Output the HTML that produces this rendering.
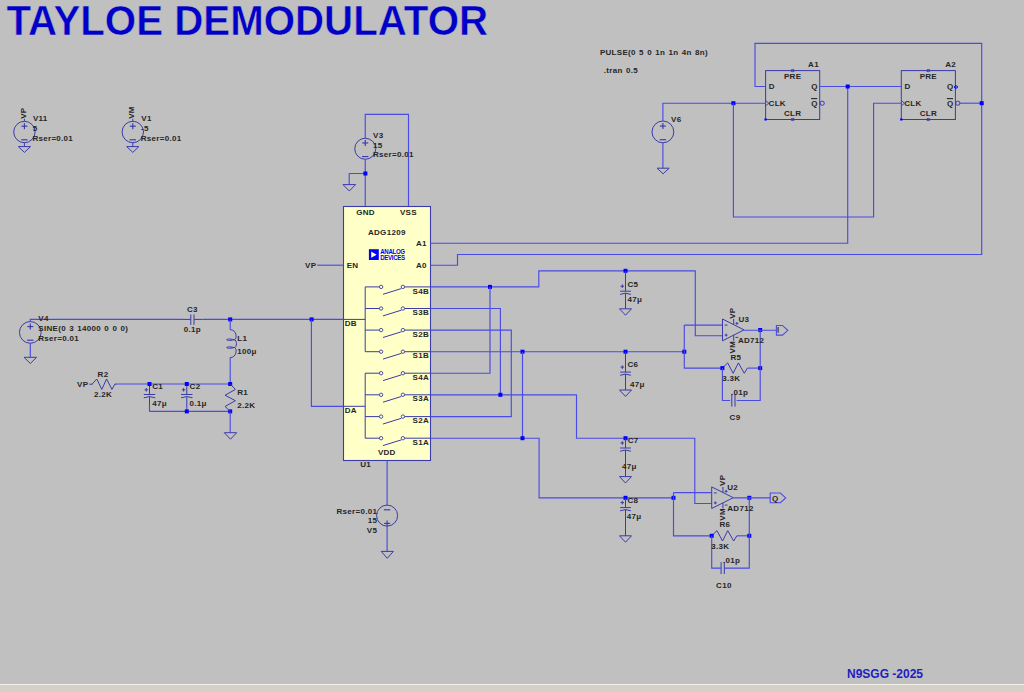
<!DOCTYPE html>
<html><head><meta charset="utf-8"><style>
html,body{margin:0;padding:0;width:1024px;height:692px;overflow:hidden;background:#c0c0c0}
svg{display:block}
text{font-family:"Liberation Sans",sans-serif;font-weight:bold}
</style></head><body>
<svg width="1024" height="692" viewBox="0 0 1024 692">
<rect x="0" y="0" width="1024" height="684" fill="#c0c0c0"/>
<rect x="0" y="684" width="1024" height="1" fill="#f2f0ec"/>
<rect x="0" y="685" width="1024" height="7" fill="#d4d0c8"/>
<text x="0" y="0" transform="translate(6.4,35.2) scale(1.007,1.086)" font-size="40" fill="#0000c8" stroke="#c0c0c0" stroke-width="0.5">TAYLOE DEMODULATOR</text>
<text x="847" y="677.6" font-size="12" fill="#2020c0">N9SGG -2025</text>
<circle cx="24.40" cy="132.00" r="10.70" fill="none" stroke="#3a3aa8" stroke-width="1.0"/>
<polyline points="21.40,126.20 27.40,126.20" fill="none" stroke="#3a3aa8" stroke-width="1.15"/>
<polyline points="24.40,123.20 24.40,129.20" fill="none" stroke="#3a3aa8" stroke-width="1.15"/>
<polyline points="21.20,139.80 27.60,139.80" fill="none" stroke="#3a3aa8" stroke-width="1.15"/>
<polyline points="24.40,121.30 24.40,118.80" fill="none" stroke="#3a3aa8" stroke-width="1.0"/>
<polyline points="24.40,142.70 24.40,146.60" fill="none" stroke="#3a3aa8" stroke-width="1.0"/>
<polygon points="18.30,146.60 30.50,146.60 24.40,152.40" fill="none" stroke="#3a3aa8" stroke-width="1"/>
<text x="0" y="0" transform="translate(26.00,118.80) rotate(-90)" font-size="8" letter-spacing="0.3" fill="#262626">VP</text>
<text x="32.90" y="121.30" text-anchor="start" font-size="8" letter-spacing="0.3" word-spacing="0.8" fill="#262626" >V11</text>
<text x="32.70" y="131.00" text-anchor="start" font-size="8" letter-spacing="0.3" word-spacing="0.8" fill="#262626" >5</text>
<text x="32.40" y="140.80" text-anchor="start" font-size="8" letter-spacing="0.3" word-spacing="0.8" fill="#262626" >Rser=0.01</text>
<circle cx="132.80" cy="132.00" r="10.70" fill="none" stroke="#3a3aa8" stroke-width="1.0"/>
<polyline points="129.80,126.20 135.80,126.20" fill="none" stroke="#3a3aa8" stroke-width="1.15"/>
<polyline points="132.80,123.20 132.80,129.20" fill="none" stroke="#3a3aa8" stroke-width="1.15"/>
<polyline points="129.60,139.80 136.00,139.80" fill="none" stroke="#3a3aa8" stroke-width="1.15"/>
<polyline points="132.80,121.30 132.80,118.80" fill="none" stroke="#3a3aa8" stroke-width="1.0"/>
<polyline points="132.80,142.70 132.80,146.60" fill="none" stroke="#3a3aa8" stroke-width="1.0"/>
<polygon points="126.70,146.60 138.90,146.60 132.80,152.40" fill="none" stroke="#3a3aa8" stroke-width="1"/>
<text x="0" y="0" transform="translate(134.40,118.80) rotate(-90)" font-size="8" letter-spacing="0.3" fill="#262626">VM</text>
<text x="141.30" y="121.30" text-anchor="start" font-size="8" letter-spacing="0.3" word-spacing="0.8" fill="#262626" >V1</text>
<text x="141.10" y="131.00" text-anchor="start" font-size="8" letter-spacing="0.3" word-spacing="0.8" fill="#262626" >-5</text>
<text x="140.80" y="140.80" text-anchor="start" font-size="8" letter-spacing="0.3" word-spacing="0.8" fill="#262626" >Rser=0.01</text>
<circle cx="365.25" cy="148.75" r="10.50" fill="none" stroke="#3a3aa8" stroke-width="1.0"/>
<polyline points="362.25,142.95 368.25,142.95" fill="none" stroke="#3a3aa8" stroke-width="1.15"/>
<polyline points="365.25,139.95 365.25,145.95" fill="none" stroke="#3a3aa8" stroke-width="1.15"/>
<polyline points="362.05,156.55 368.45,156.55" fill="none" stroke="#3a3aa8" stroke-width="1.15"/>
<polyline points="365.25,138.25 365.25,114.30 408.50,114.30 408.50,206.20" fill="none" stroke="#4a4ae6" stroke-width="1.15"/>
<polyline points="365.25,159.25 365.25,206.20" fill="none" stroke="#4a4ae6" stroke-width="1.15"/>
<polyline points="365.25,173.50 349.20,173.50 349.20,184.60" fill="none" stroke="#4a4ae6" stroke-width="1.15"/>
<polygon points="343.00,184.60 355.60,184.60 349.30,191.00" fill="none" stroke="#3a3aa8" stroke-width="1"/>
<rect x="363.40" y="171.50" width="4.0" height="4.0" fill="#0000ff"/>
<text x="373.00" y="138.25" text-anchor="start" font-size="8" letter-spacing="0.3" word-spacing="0.8" fill="#262626" >V3</text>
<text x="373.00" y="147.50" text-anchor="start" font-size="8" letter-spacing="0.3" word-spacing="0.8" fill="#262626" >15</text>
<text x="373.00" y="156.75" text-anchor="start" font-size="8" letter-spacing="0.3" word-spacing="0.8" fill="#262626" >Rser=0.01</text>
<rect x="343.5" y="206.5" width="87" height="254" fill="#ffffc8" stroke="#3a3aa8" stroke-width="1.1"/>
<text x="365.50" y="214.90" text-anchor="middle" font-size="8" letter-spacing="0.3" word-spacing="0.8" fill="#262626" >GND</text>
<text x="408.40" y="214.90" text-anchor="middle" font-size="8" letter-spacing="0.3" word-spacing="0.8" fill="#262626" >VSS</text>
<text x="386.80" y="235.20" text-anchor="middle" font-size="8" letter-spacing="0.3" word-spacing="0.8" fill="#262626" >ADG1209</text>
<text x="426.80" y="246.00" text-anchor="end" font-size="8" letter-spacing="0.3" word-spacing="0.8" fill="#262626" >A1</text>
<text x="426.80" y="267.70" text-anchor="end" font-size="8" letter-spacing="0.3" word-spacing="0.8" fill="#262626" >A0</text>
<text x="346.70" y="267.70" text-anchor="start" font-size="8" letter-spacing="0.3" word-spacing="0.8" fill="#262626" >EN</text>
<text x="344.80" y="326.00" text-anchor="start" font-size="8" letter-spacing="0.3" word-spacing="0.8" fill="#262626" >DB</text>
<text x="344.80" y="412.80" text-anchor="start" font-size="8" letter-spacing="0.3" word-spacing="0.8" fill="#262626" >DA</text>
<text x="386.80" y="454.60" text-anchor="middle" font-size="8" letter-spacing="0.3" word-spacing="0.8" fill="#262626" >VDD</text>
<text x="360.30" y="467.20" text-anchor="start" font-size="8" letter-spacing="0.3" word-spacing="0.8" fill="#262626" >U1</text>
<rect x="368.9" y="249.2" width="9.9" height="10.8" fill="#0000ff"/>
<polygon points="371.2,251.6 371.2,257.7 376.6,254.65" fill="#ffffc8"/>
<text x="380.2" y="253.9" font-size="6.3" fill="#0000ff" font-weight="bold" letter-spacing="-0.3" textLength="24.6" lengthAdjust="spacingAndGlyphs">ANALOG</text>
<text x="380.2" y="259.9" font-size="6.3" fill="#0000ff" font-weight="bold" letter-spacing="-0.3" textLength="24.6" lengthAdjust="spacingAndGlyphs">DEVICES</text>
<polyline points="365.20,286.90 365.20,351.70" fill="none" stroke="#3a3aa8" stroke-width="1.0"/>
<polyline points="365.20,286.90 379.40,286.90" fill="none" stroke="#3a3aa8" stroke-width="1.0"/>
<circle cx="381.10" cy="286.90" r="1.70" fill="none" stroke="#3a3aa8" stroke-width="0.9"/>
<circle cx="402.90" cy="286.90" r="1.70" fill="none" stroke="#3a3aa8" stroke-width="0.9"/>
<polyline points="383.00,294.30 401.30,288.60" fill="none" stroke="#3a3aa8" stroke-width="1.0"/>
<polyline points="404.60,286.90 430.40,286.90" fill="none" stroke="#3a3aa8" stroke-width="1.0"/>
<text x="429.00" y="293.50" text-anchor="end" font-size="8" letter-spacing="0.3" word-spacing="0.8" fill="#262626" >S4B</text>
<polyline points="365.20,308.50 379.40,308.50" fill="none" stroke="#3a3aa8" stroke-width="1.0"/>
<circle cx="381.10" cy="308.50" r="1.70" fill="none" stroke="#3a3aa8" stroke-width="0.9"/>
<circle cx="402.90" cy="308.50" r="1.70" fill="none" stroke="#3a3aa8" stroke-width="0.9"/>
<polyline points="383.00,315.90 401.30,310.20" fill="none" stroke="#3a3aa8" stroke-width="1.0"/>
<polyline points="404.60,308.50 430.40,308.50" fill="none" stroke="#3a3aa8" stroke-width="1.0"/>
<text x="429.00" y="315.10" text-anchor="end" font-size="8" letter-spacing="0.3" word-spacing="0.8" fill="#262626" >S3B</text>
<polyline points="365.20,330.10 379.40,330.10" fill="none" stroke="#3a3aa8" stroke-width="1.0"/>
<circle cx="381.10" cy="330.10" r="1.70" fill="none" stroke="#3a3aa8" stroke-width="0.9"/>
<circle cx="402.90" cy="330.10" r="1.70" fill="none" stroke="#3a3aa8" stroke-width="0.9"/>
<polyline points="383.00,337.50 401.30,331.80" fill="none" stroke="#3a3aa8" stroke-width="1.0"/>
<polyline points="404.60,330.10 430.40,330.10" fill="none" stroke="#3a3aa8" stroke-width="1.0"/>
<text x="429.00" y="336.70" text-anchor="end" font-size="8" letter-spacing="0.3" word-spacing="0.8" fill="#262626" >S2B</text>
<polyline points="365.20,351.70 379.40,351.70" fill="none" stroke="#3a3aa8" stroke-width="1.0"/>
<circle cx="381.10" cy="351.70" r="1.70" fill="none" stroke="#3a3aa8" stroke-width="0.9"/>
<circle cx="402.90" cy="351.70" r="1.70" fill="none" stroke="#3a3aa8" stroke-width="0.9"/>
<polyline points="383.00,359.10 401.30,353.40" fill="none" stroke="#3a3aa8" stroke-width="1.0"/>
<polyline points="404.60,351.70 430.40,351.70" fill="none" stroke="#3a3aa8" stroke-width="1.0"/>
<text x="429.00" y="358.30" text-anchor="end" font-size="8" letter-spacing="0.3" word-spacing="0.8" fill="#262626" >S1B</text>
<polyline points="365.20,373.20 365.20,438.20" fill="none" stroke="#3a3aa8" stroke-width="1.0"/>
<polyline points="365.20,373.20 379.40,373.20" fill="none" stroke="#3a3aa8" stroke-width="1.0"/>
<circle cx="381.10" cy="373.20" r="1.70" fill="none" stroke="#3a3aa8" stroke-width="0.9"/>
<circle cx="402.90" cy="373.20" r="1.70" fill="none" stroke="#3a3aa8" stroke-width="0.9"/>
<polyline points="383.00,380.60 401.30,374.90" fill="none" stroke="#3a3aa8" stroke-width="1.0"/>
<polyline points="404.60,373.20 430.40,373.20" fill="none" stroke="#3a3aa8" stroke-width="1.0"/>
<text x="429.00" y="379.80" text-anchor="end" font-size="8" letter-spacing="0.3" word-spacing="0.8" fill="#262626" >S4A</text>
<polyline points="365.20,394.80 379.40,394.80" fill="none" stroke="#3a3aa8" stroke-width="1.0"/>
<circle cx="381.10" cy="394.80" r="1.70" fill="none" stroke="#3a3aa8" stroke-width="0.9"/>
<circle cx="402.90" cy="394.80" r="1.70" fill="none" stroke="#3a3aa8" stroke-width="0.9"/>
<polyline points="383.00,402.20 401.30,396.50" fill="none" stroke="#3a3aa8" stroke-width="1.0"/>
<polyline points="404.60,394.80 430.40,394.80" fill="none" stroke="#3a3aa8" stroke-width="1.0"/>
<text x="429.00" y="401.40" text-anchor="end" font-size="8" letter-spacing="0.3" word-spacing="0.8" fill="#262626" >S3A</text>
<polyline points="365.20,416.60 379.40,416.60" fill="none" stroke="#3a3aa8" stroke-width="1.0"/>
<circle cx="381.10" cy="416.60" r="1.70" fill="none" stroke="#3a3aa8" stroke-width="0.9"/>
<circle cx="402.90" cy="416.60" r="1.70" fill="none" stroke="#3a3aa8" stroke-width="0.9"/>
<polyline points="383.00,424.00 401.30,418.30" fill="none" stroke="#3a3aa8" stroke-width="1.0"/>
<polyline points="404.60,416.60 430.40,416.60" fill="none" stroke="#3a3aa8" stroke-width="1.0"/>
<text x="429.00" y="423.20" text-anchor="end" font-size="8" letter-spacing="0.3" word-spacing="0.8" fill="#262626" >S2A</text>
<polyline points="365.20,438.20 379.40,438.20" fill="none" stroke="#3a3aa8" stroke-width="1.0"/>
<circle cx="381.10" cy="438.20" r="1.70" fill="none" stroke="#3a3aa8" stroke-width="0.9"/>
<circle cx="402.90" cy="438.20" r="1.70" fill="none" stroke="#3a3aa8" stroke-width="0.9"/>
<polyline points="383.00,445.60 401.30,439.90" fill="none" stroke="#3a3aa8" stroke-width="1.0"/>
<polyline points="404.60,438.20 430.40,438.20" fill="none" stroke="#3a3aa8" stroke-width="1.0"/>
<text x="429.00" y="444.80" text-anchor="end" font-size="8" letter-spacing="0.3" word-spacing="0.8" fill="#262626" >S1A</text>
<polyline points="343.50,319.40 365.20,319.40" fill="none" stroke="#3a3aa8" stroke-width="1.0"/>
<polyline points="343.50,406.30 365.20,406.30" fill="none" stroke="#3a3aa8" stroke-width="1.0"/>
<polyline points="387.10,460.40 387.10,505.10" fill="none" stroke="#4a4ae6" stroke-width="1.15"/>
<circle cx="387.10" cy="515.60" r="10.50" fill="none" stroke="#3a3aa8" stroke-width="1.0"/>
<polyline points="384.10,523.40 390.10,523.40" fill="none" stroke="#3a3aa8" stroke-width="1.15"/>
<polyline points="387.10,520.40 387.10,526.40" fill="none" stroke="#3a3aa8" stroke-width="1.15"/>
<polyline points="383.90,509.80 390.30,509.80" fill="none" stroke="#3a3aa8" stroke-width="1.15"/>
<polyline points="387.10,526.10 387.10,551.40" fill="none" stroke="#4a4ae6" stroke-width="1.15"/>
<polygon points="381.20,551.40 393.40,551.40 387.30,558.30" fill="none" stroke="#3a3aa8" stroke-width="1"/>
<text x="377.20" y="514.00" text-anchor="end" font-size="8" letter-spacing="0.3" word-spacing="0.8" fill="#262626" >Rser=0.01</text>
<text x="377.20" y="523.30" text-anchor="end" font-size="8" letter-spacing="0.3" word-spacing="0.8" fill="#262626" >15</text>
<text x="377.20" y="532.70" text-anchor="end" font-size="8" letter-spacing="0.3" word-spacing="0.8" fill="#262626" >V5</text>
<text x="316.30" y="268.00" text-anchor="end" font-size="8" letter-spacing="0.3" word-spacing="0.8" fill="#262626" >VP</text>
<polyline points="317.20,265.20 343.50,265.20" fill="none" stroke="#4a4ae6" stroke-width="1.15"/>
<circle cx="30.30" cy="332.40" r="10.85" fill="none" stroke="#3a3aa8" stroke-width="1.0"/>
<polyline points="27.30,326.60 33.30,326.60" fill="none" stroke="#3a3aa8" stroke-width="1.15"/>
<polyline points="30.30,323.60 30.30,329.60" fill="none" stroke="#3a3aa8" stroke-width="1.15"/>
<polyline points="27.10,340.20 33.50,340.20" fill="none" stroke="#3a3aa8" stroke-width="1.15"/>
<polyline points="30.30,321.50 30.30,319.40 183.00,319.40" fill="none" stroke="#4a4ae6" stroke-width="1.15"/>
<polyline points="183.00,319.40 190.80,319.40" fill="none" stroke="#3a3aa8" stroke-width="1.0"/>
<polyline points="194.00,319.40 202.60,319.40" fill="none" stroke="#3a3aa8" stroke-width="1.0"/>
<polyline points="190.80,314.50 190.80,324.90" fill="none" stroke="#3a3aa8" stroke-width="1.0"/>
<polyline points="194.00,314.50 194.00,324.90" fill="none" stroke="#3a3aa8" stroke-width="1.0"/>
<polyline points="202.60,319.40 343.50,319.40" fill="none" stroke="#4a4ae6" stroke-width="1.15"/>
<polyline points="30.30,343.20 30.30,357.30" fill="none" stroke="#4a4ae6" stroke-width="1.15"/>
<polygon points="24.05,357.30 36.55,357.30 30.30,363.50" fill="none" stroke="#3a3aa8" stroke-width="1"/>
<text x="38.30" y="321.40" text-anchor="start" font-size="8" letter-spacing="0.3" word-spacing="0.8" fill="#262626" >V4</text>
<text x="38.30" y="331.00" text-anchor="start" font-size="8" letter-spacing="0.3" word-spacing="0.8" fill="#262626" >SINE(0 3 14000 0 0 0)</text>
<text x="38.30" y="341.00" text-anchor="start" font-size="8" letter-spacing="0.3" word-spacing="0.8" fill="#262626" >Rser=0.01</text>
<text x="192.40" y="311.90" text-anchor="middle" font-size="8" letter-spacing="0.3" word-spacing="0.8" fill="#262626" >C3</text>
<text x="192.40" y="331.90" text-anchor="middle" font-size="8" letter-spacing="0.3" word-spacing="0.8" fill="#262626" >0.1p</text>
<rect x="228.20" y="317.40" width="4.0" height="4.0" fill="#0000ff"/>
<rect x="309.60" y="317.40" width="4.0" height="4.0" fill="#0000ff"/>
<polyline points="311.40,319.40 311.40,406.30 343.50,406.30" fill="none" stroke="#4a4ae6" stroke-width="1.15"/>
<polyline points="230.20,319.40 230.20,329.70" fill="none" stroke="#4a4ae6" stroke-width="1.15"/>
<path d="M230.20,329.70 C237.20,329.70 237.20,339.74 234.20,339.74 C224.20,337.24 224.20,342.24 234.20,339.74 C237.20,339.74 237.20,347.56 234.20,347.56 C224.20,345.06 224.20,350.06 234.20,347.56 C237.20,347.56 237.20,357.60 230.20,357.60" fill="none" stroke="#3a3aa8" stroke-width="1"/>
<polyline points="230.20,357.60 230.20,383.90" fill="none" stroke="#4a4ae6" stroke-width="1.15"/>
<text x="237.30" y="341.20" text-anchor="start" font-size="8" letter-spacing="0.3" word-spacing="0.8" fill="#262626" >L1</text>
<text x="237.30" y="354.20" text-anchor="start" font-size="8" letter-spacing="0.3" word-spacing="0.8" fill="#262626" >100μ</text>
<text x="88.30" y="387.30" text-anchor="end" font-size="8" letter-spacing="0.3" word-spacing="0.8" fill="#262626" >VP</text>
<polyline points="89.30,384.20 92.60,384.20" fill="none" stroke="#3a3aa8" stroke-width="1.0"/>
<polyline points="92.00,384.20 96.79,379.00 101.80,389.40 106.59,379.00 111.95,389.40 114.80,384.20" fill="none" stroke="#3a3aa8" stroke-width="1.0"/>
<polyline points="114.80,384.20 116.50,384.20" fill="none" stroke="#3a3aa8" stroke-width="1.0"/>
<text x="103.00" y="376.60" text-anchor="middle" font-size="8" letter-spacing="0.3" word-spacing="0.8" fill="#262626" >R2</text>
<text x="103.00" y="396.60" text-anchor="middle" font-size="8" letter-spacing="0.3" word-spacing="0.8" fill="#262626" >2.2K</text>
<polyline points="115.60,384.00 230.20,384.00" fill="none" stroke="#4a4ae6" stroke-width="1.15"/>
<polyline points="149.50,384.00 149.50,394.50" fill="none" stroke="#3a3aa8" stroke-width="1.0"/>
<polyline points="143.80,394.50 155.20,394.50" fill="none" stroke="#3a3aa8" stroke-width="1.0"/>
<path d="M143.80,397.80 Q149.50,395.30 155.20,397.80" fill="none" stroke="#3a3aa8" stroke-width="1"/>
<polyline points="149.50,396.50 149.50,406.20" fill="none" stroke="#3a3aa8" stroke-width="1.0"/>
<polyline points="144.50,389.80 148.10,389.80" fill="none" stroke="#3a3aa8" stroke-width="1.0"/>
<polyline points="146.30,388.00 146.30,391.60" fill="none" stroke="#3a3aa8" stroke-width="1.0"/>
<polyline points="149.50,406.10 149.50,411.40" fill="none" stroke="#4a4ae6" stroke-width="1.15"/>
<rect x="147.50" y="382.00" width="4.0" height="4.0" fill="#0000ff"/>
<text x="152.30" y="389.40" text-anchor="start" font-size="8" letter-spacing="0.3" word-spacing="0.8" fill="#262626" >C1</text>
<text x="152.30" y="405.50" text-anchor="start" font-size="8" letter-spacing="0.3" word-spacing="0.8" fill="#262626" >47μ</text>
<polyline points="186.80,384.00 186.80,394.50" fill="none" stroke="#3a3aa8" stroke-width="1.0"/>
<polyline points="181.10,394.50 192.50,394.50" fill="none" stroke="#3a3aa8" stroke-width="1.0"/>
<path d="M181.10,397.80 Q186.80,395.30 192.50,397.80" fill="none" stroke="#3a3aa8" stroke-width="1"/>
<polyline points="186.80,396.50 186.80,406.20" fill="none" stroke="#3a3aa8" stroke-width="1.0"/>
<polyline points="181.80,389.80 185.40,389.80" fill="none" stroke="#3a3aa8" stroke-width="1.0"/>
<polyline points="183.60,388.00 183.60,391.60" fill="none" stroke="#3a3aa8" stroke-width="1.0"/>
<polyline points="186.80,406.10 186.80,411.40" fill="none" stroke="#4a4ae6" stroke-width="1.15"/>
<rect x="184.80" y="382.00" width="4.0" height="4.0" fill="#0000ff"/>
<text x="189.60" y="389.40" text-anchor="start" font-size="8" letter-spacing="0.3" word-spacing="0.8" fill="#262626" >C2</text>
<text x="189.60" y="405.50" text-anchor="start" font-size="8" letter-spacing="0.3" word-spacing="0.8" fill="#262626" >0.1μ</text>
<polyline points="149.50,411.40 230.20,411.40" fill="none" stroke="#4a4ae6" stroke-width="1.15"/>
<rect x="184.80" y="409.40" width="4.0" height="4.0" fill="#0000ff"/>
<rect x="228.20" y="409.40" width="4.0" height="4.0" fill="#0000ff"/>
<rect x="228.20" y="382.00" width="4.0" height="4.0" fill="#0000ff"/>
<polyline points="230.20,384.00 235.40,389.48 225.00,395.23 235.40,400.71 225.00,406.47 230.20,411.40" fill="none" stroke="#3a3aa8" stroke-width="1.0"/>
<text x="237.30" y="394.70" text-anchor="start" font-size="8" letter-spacing="0.3" word-spacing="0.8" fill="#262626" >R1</text>
<text x="237.30" y="407.70" text-anchor="start" font-size="8" letter-spacing="0.3" word-spacing="0.8" fill="#262626" >2.2K</text>
<polyline points="230.20,411.40 230.20,432.70" fill="none" stroke="#4a4ae6" stroke-width="1.15"/>
<polygon points="224.30,432.70 236.70,432.70 230.50,439.20" fill="none" stroke="#3a3aa8" stroke-width="1"/>
<rect x="765.6" y="70.6" width="54.10" height="48.90" fill="none" stroke="#3a3aa8" stroke-width="1"/>
<text x="818.90" y="67.40" text-anchor="end" font-size="8" letter-spacing="0.3" word-spacing="0.8" fill="#262626" >A1</text>
<text x="792.65" y="78.50" text-anchor="middle" font-size="8" letter-spacing="0.3" word-spacing="0.8" fill="#262626" >PRE</text>
<text x="792.65" y="116.00" text-anchor="middle" font-size="8" letter-spacing="0.3" word-spacing="0.8" fill="#262626" >CLR</text>
<text x="768.80" y="89.00" text-anchor="start" font-size="8" letter-spacing="0.3" word-spacing="0.8" fill="#262626" >D</text>
<text x="768.60" y="105.60" text-anchor="start" font-size="8" letter-spacing="0.3" word-spacing="0.8" fill="#262626" >CLK</text>
<text x="817.90" y="89.00" text-anchor="end" font-size="8" letter-spacing="0.3" word-spacing="0.8" fill="#262626" >Q</text>
<text x="817.90" y="105.60" text-anchor="end" font-size="8" letter-spacing="0.3" word-spacing="0.8" fill="#262626" >Q</text>
<polyline points="811.10,98.60 817.30,98.60" fill="none" stroke="#262626" stroke-width="1.1"/>
<ellipse cx="792.65" cy="70.60" rx="1.9" ry="1.1" fill="none" stroke="#3a3aa8" stroke-width="0.9"/>
<ellipse cx="792.65" cy="119.50" rx="1.9" ry="1.1" fill="none" stroke="#3a3aa8" stroke-width="0.9"/>
<rect x="764.40" y="118.50" width="2.4" height="2.0" fill="#0000ff"/>
<circle cx="822.20" cy="103.20" r="2.10" fill="none" stroke="#3a3aa8" stroke-width="1.0"/>
<polyline points="765.60,100.60 768.80,103.20 765.60,105.80" fill="none" stroke="#3a3aa8" stroke-width="0.9"/>
<rect x="901.3" y="70.6" width="54.10" height="48.90" fill="none" stroke="#3a3aa8" stroke-width="1"/>
<text x="956.00" y="67.40" text-anchor="end" font-size="8" letter-spacing="0.3" word-spacing="0.8" fill="#262626" >A2</text>
<text x="928.35" y="78.50" text-anchor="middle" font-size="8" letter-spacing="0.3" word-spacing="0.8" fill="#262626" >PRE</text>
<text x="928.35" y="116.00" text-anchor="middle" font-size="8" letter-spacing="0.3" word-spacing="0.8" fill="#262626" >CLR</text>
<text x="904.50" y="89.00" text-anchor="start" font-size="8" letter-spacing="0.3" word-spacing="0.8" fill="#262626" >D</text>
<text x="904.30" y="105.60" text-anchor="start" font-size="8" letter-spacing="0.3" word-spacing="0.8" fill="#262626" >CLK</text>
<text x="953.60" y="89.00" text-anchor="end" font-size="8" letter-spacing="0.3" word-spacing="0.8" fill="#262626" >Q</text>
<text x="953.60" y="105.60" text-anchor="end" font-size="8" letter-spacing="0.3" word-spacing="0.8" fill="#262626" >Q</text>
<polyline points="946.80,98.60 953.00,98.60" fill="none" stroke="#262626" stroke-width="1.1"/>
<ellipse cx="928.35" cy="70.60" rx="1.9" ry="1.1" fill="none" stroke="#3a3aa8" stroke-width="0.9"/>
<ellipse cx="928.35" cy="119.50" rx="1.9" ry="1.1" fill="none" stroke="#3a3aa8" stroke-width="0.9"/>
<rect x="900.10" y="118.50" width="2.4" height="2.0" fill="#0000ff"/>
<circle cx="957.90" cy="103.20" r="2.10" fill="none" stroke="#3a3aa8" stroke-width="1.0"/>
<polyline points="901.30,100.60 904.50,103.20 901.30,105.80" fill="none" stroke="#3a3aa8" stroke-width="0.9"/>
<ellipse cx="956.0" cy="87.0" rx="1.6" ry="1.2" fill="none" stroke="#0000ff" stroke-width="1"/>
<polyline points="430.40,243.20 847.70,243.20 847.70,86.50" fill="none" stroke="#4a4ae6" stroke-width="1.15"/>
<polyline points="430.40,265.20 457.50,265.20 457.50,254.50 981.70,254.50 981.70,43.30 755.00,43.30 755.00,86.50 765.60,86.50" fill="none" stroke="#4a4ae6" stroke-width="1.15"/>
<polyline points="819.70,86.50 901.30,86.50" fill="none" stroke="#4a4ae6" stroke-width="1.15"/>
<rect x="845.70" y="84.50" width="4.0" height="4.0" fill="#0000ff"/>
<circle cx="662.90" cy="131.90" r="10.90" fill="none" stroke="#3a3aa8" stroke-width="1.0"/>
<polyline points="659.90,126.10 665.90,126.10" fill="none" stroke="#3a3aa8" stroke-width="1.15"/>
<polyline points="662.90,123.10 662.90,129.10" fill="none" stroke="#3a3aa8" stroke-width="1.15"/>
<polyline points="659.70,139.70 666.10,139.70" fill="none" stroke="#3a3aa8" stroke-width="1.15"/>
<polyline points="662.90,121.00 662.90,103.20 765.60,103.20" fill="none" stroke="#4a4ae6" stroke-width="1.15"/>
<rect x="731.40" y="101.20" width="4.0" height="4.0" fill="#0000ff"/>
<polyline points="733.40,103.20 733.40,217.00 873.60,217.00 873.60,103.20 901.30,103.20" fill="none" stroke="#4a4ae6" stroke-width="1.15"/>
<polyline points="958.90,103.20 981.70,103.20" fill="none" stroke="#4a4ae6" stroke-width="1.15"/>
<rect x="979.70" y="101.20" width="4.0" height="4.0" fill="#0000ff"/>
<polyline points="662.90,142.80 662.90,168.20" fill="none" stroke="#4a4ae6" stroke-width="1.15"/>
<polygon points="657.00,168.20 669.20,168.20 663.10,173.80" fill="none" stroke="#3a3aa8" stroke-width="1"/>
<text x="671.00" y="121.70" text-anchor="start" font-size="8" letter-spacing="0.3" word-spacing="0.8" fill="#262626" >V6</text>
<text x="599.90" y="55.40" text-anchor="start" font-size="8" letter-spacing="0.3" word-spacing="0.8" fill="#262626" >PULSE(0 5 0 1n 1n 4n 8n)</text>
<text x="603.80" y="73.25" text-anchor="start" font-size="8" letter-spacing="0.3" word-spacing="0.8" fill="#262626" >.tran 0.5</text>
<polyline points="430.40,286.90 538.80,286.90 538.80,270.80 695.30,270.80 695.30,335.70 722.00,335.70" fill="none" stroke="#4a4ae6" stroke-width="1.15"/>
<rect x="488.00" y="284.90" width="4.0" height="4.0" fill="#0000ff"/>
<rect x="623.50" y="268.80" width="4.0" height="4.0" fill="#0000ff"/>
<polyline points="490.00,286.90 490.00,373.20 430.40,373.20" fill="none" stroke="#4a4ae6" stroke-width="1.15"/>
<polyline points="430.40,308.50 500.40,308.50 500.40,394.80" fill="none" stroke="#4a4ae6" stroke-width="1.15"/>
<polyline points="430.40,394.80 576.50,394.80 576.50,438.20 694.80,438.20 694.80,503.50 711.70,503.50" fill="none" stroke="#4a4ae6" stroke-width="1.15"/>
<rect x="498.40" y="392.80" width="4.0" height="4.0" fill="#0000ff"/>
<rect x="623.50" y="436.20" width="4.0" height="4.0" fill="#0000ff"/>
<polyline points="430.40,330.10 511.30,330.10 511.30,416.60 430.40,416.60" fill="none" stroke="#4a4ae6" stroke-width="1.15"/>
<polyline points="430.40,351.70 684.30,351.70" fill="none" stroke="#4a4ae6" stroke-width="1.15"/>
<rect x="520.50" y="349.70" width="4.0" height="4.0" fill="#0000ff"/>
<rect x="623.50" y="349.70" width="4.0" height="4.0" fill="#0000ff"/>
<rect x="682.30" y="349.70" width="4.0" height="4.0" fill="#0000ff"/>
<polyline points="522.50,351.70 522.50,438.20" fill="none" stroke="#4a4ae6" stroke-width="1.15"/>
<polyline points="430.40,438.20 539.10,438.20 539.10,497.80 673.50,497.80" fill="none" stroke="#4a4ae6" stroke-width="1.15"/>
<rect x="520.50" y="436.20" width="4.0" height="4.0" fill="#0000ff"/>
<rect x="623.50" y="495.80" width="4.0" height="4.0" fill="#0000ff"/>
<rect x="671.50" y="495.80" width="4.0" height="4.0" fill="#0000ff"/>
<polyline points="625.50,270.80 625.50,291.20" fill="none" stroke="#3a3aa8" stroke-width="1.0"/>
<polyline points="620.10,291.20 630.90,291.20" fill="none" stroke="#3a3aa8" stroke-width="1.0"/>
<path d="M620.10,294.40 Q625.50,292.00 630.90,294.40" fill="none" stroke="#3a3aa8" stroke-width="1"/>
<polyline points="625.50,293.20 625.50,308.80" fill="none" stroke="#3a3aa8" stroke-width="1.0"/>
<polyline points="620.50,286.20 624.10,286.20" fill="none" stroke="#3a3aa8" stroke-width="1.0"/>
<polyline points="622.30,284.40 622.30,288.00" fill="none" stroke="#3a3aa8" stroke-width="1.0"/>
<polygon points="619.50,308.80 631.50,308.80 625.50,315.20" fill="none" stroke="#3a3aa8" stroke-width="1"/>
<text x="627.50" y="286.50" text-anchor="start" font-size="8" letter-spacing="0.3" word-spacing="0.8" fill="#262626" >C5</text>
<text x="627.50" y="302.30" text-anchor="start" font-size="8" letter-spacing="0.3" word-spacing="0.8" fill="#262626" >47μ</text>
<polyline points="625.50,351.70 625.50,372.10" fill="none" stroke="#3a3aa8" stroke-width="1.0"/>
<polyline points="620.10,372.10 630.90,372.10" fill="none" stroke="#3a3aa8" stroke-width="1.0"/>
<path d="M620.10,375.30 Q625.50,372.90 630.90,375.30" fill="none" stroke="#3a3aa8" stroke-width="1"/>
<polyline points="625.50,374.10 625.50,390.00" fill="none" stroke="#3a3aa8" stroke-width="1.0"/>
<polyline points="620.50,367.10 624.10,367.10" fill="none" stroke="#3a3aa8" stroke-width="1.0"/>
<polyline points="622.30,365.30 622.30,368.90" fill="none" stroke="#3a3aa8" stroke-width="1.0"/>
<polygon points="619.50,390.00 631.50,390.00 625.50,396.40" fill="none" stroke="#3a3aa8" stroke-width="1"/>
<text x="627.50" y="367.40" text-anchor="start" font-size="8" letter-spacing="0.3" word-spacing="0.8" fill="#262626" >C6</text>
<text x="630.00" y="386.50" text-anchor="start" font-size="8" letter-spacing="0.3" word-spacing="0.8" fill="#262626" >47μ</text>
<polyline points="625.50,438.20 625.50,448.00" fill="none" stroke="#3a3aa8" stroke-width="1.0"/>
<polyline points="620.10,448.00 630.90,448.00" fill="none" stroke="#3a3aa8" stroke-width="1.0"/>
<path d="M620.10,451.20 Q625.50,448.80 630.90,451.20" fill="none" stroke="#3a3aa8" stroke-width="1"/>
<polyline points="625.50,450.00 625.50,476.60" fill="none" stroke="#3a3aa8" stroke-width="1.0"/>
<polyline points="620.50,443.00 624.10,443.00" fill="none" stroke="#3a3aa8" stroke-width="1.0"/>
<polyline points="622.30,441.20 622.30,444.80" fill="none" stroke="#3a3aa8" stroke-width="1.0"/>
<polygon points="619.50,476.60 631.50,476.60 625.50,483.00" fill="none" stroke="#3a3aa8" stroke-width="1"/>
<text x="627.70" y="443.30" text-anchor="start" font-size="8" letter-spacing="0.3" word-spacing="0.8" fill="#262626" >C7</text>
<text x="622.00" y="469.00" text-anchor="start" font-size="8" letter-spacing="0.3" word-spacing="0.8" fill="#262626" >47μ</text>
<polyline points="625.50,497.80 625.50,507.60" fill="none" stroke="#3a3aa8" stroke-width="1.0"/>
<polyline points="620.10,507.60 630.90,507.60" fill="none" stroke="#3a3aa8" stroke-width="1.0"/>
<path d="M620.10,510.80 Q625.50,508.40 630.90,510.80" fill="none" stroke="#3a3aa8" stroke-width="1"/>
<polyline points="625.50,509.60 625.50,535.80" fill="none" stroke="#3a3aa8" stroke-width="1.0"/>
<polyline points="620.50,502.60 624.10,502.60" fill="none" stroke="#3a3aa8" stroke-width="1.0"/>
<polyline points="622.30,500.80 622.30,504.40" fill="none" stroke="#3a3aa8" stroke-width="1.0"/>
<polygon points="619.50,535.80 631.50,535.80 625.50,542.20" fill="none" stroke="#3a3aa8" stroke-width="1"/>
<text x="627.50" y="502.90" text-anchor="start" font-size="8" letter-spacing="0.3" word-spacing="0.8" fill="#262626" >C8</text>
<text x="626.70" y="518.50" text-anchor="start" font-size="8" letter-spacing="0.3" word-spacing="0.8" fill="#262626" >47μ</text>
<polygon points="722.50,319.00 722.50,340.80 744.00,329.90" fill="none" stroke="#3a3aa8" stroke-width="1"/>
<polyline points="724.70,325.10 727.50,325.10" fill="none" stroke="#3a3aa8" stroke-width="1.0"/>
<polyline points="724.70,335.13 727.50,335.13" fill="none" stroke="#3a3aa8" stroke-width="1.0"/>
<polyline points="726.10,333.73 726.10,336.53" fill="none" stroke="#3a3aa8" stroke-width="1.0"/>
<polyline points="733.68,324.67 733.68,319.00" fill="none" stroke="#3a3aa8" stroke-width="1.0"/>
<polyline points="733.68,335.13 733.68,340.80" fill="none" stroke="#3a3aa8" stroke-width="1.0"/>
<polyline points="735.48,323.40 738.28,323.40" fill="none" stroke="#3a3aa8" stroke-width="1.0"/>
<polyline points="736.88,322.00 736.88,324.80" fill="none" stroke="#3a3aa8" stroke-width="1.0"/>
<polyline points="735.48,337.40 738.28,337.40" fill="none" stroke="#3a3aa8" stroke-width="1.0"/>
<polyline points="684.30,325.10 722.00,325.10" fill="none" stroke="#4a4ae6" stroke-width="1.15"/>
<polyline points="684.30,325.10 684.30,368.10 722.40,368.10" fill="none" stroke="#4a4ae6" stroke-width="1.15"/>
<polyline points="722.40,368.10 727.65,362.90 733.15,373.30 738.40,362.90 744.27,373.30 747.40,368.10" fill="none" stroke="#3a3aa8" stroke-width="1.0"/>
<polyline points="747.40,368.10 760.20,368.10" fill="none" stroke="#4a4ae6" stroke-width="1.15"/>
<rect x="720.40" y="366.10" width="4.0" height="4.0" fill="#0000ff"/>
<rect x="758.20" y="366.10" width="4.0" height="4.0" fill="#0000ff"/>
<rect x="758.20" y="328.00" width="4.0" height="4.0" fill="#0000ff"/>
<polyline points="744.00,330.20 776.40,330.20" fill="none" stroke="#4a4ae6" stroke-width="1.15"/>
<polygon points="776.40,325.45 782.50,325.45 787.80,330.30 782.50,335.15 776.40,335.15" fill="none" stroke="#4a4ae6" stroke-width="1.1"/>
<polyline points="778.10,327.00 778.10,332.80" fill="none" stroke="#262626" stroke-width="1.1"/>
<polyline points="760.20,330.00 760.20,400.50 736.60,400.50" fill="none" stroke="#4a4ae6" stroke-width="1.15"/>
<polyline points="731.80,394.00 731.80,406.60" fill="none" stroke="#3a3aa8" stroke-width="1.0"/>
<polyline points="735.00,394.00 735.00,406.60" fill="none" stroke="#3a3aa8" stroke-width="1.0"/>
<polyline points="730.20,400.50 722.40,400.50 722.40,368.10" fill="none" stroke="#4a4ae6" stroke-width="1.15"/>
<text x="738.40" y="321.60" text-anchor="start" font-size="8" letter-spacing="0.3" word-spacing="0.8" fill="#262626" >U3</text>
<text x="737.90" y="343.30" text-anchor="start" font-size="8" letter-spacing="0.3" word-spacing="0.8" fill="#262626" >AD712</text>
<text x="0" y="0" transform="translate(735.00,318.80) rotate(-90)" font-size="8" letter-spacing="0.3" fill="#262626">VP</text>
<text x="0" y="0" transform="translate(735.00,353.40) rotate(-90)" font-size="8" letter-spacing="0.3" fill="#262626">VM</text>
<text x="735.90" y="359.50" text-anchor="middle" font-size="8" letter-spacing="0.3" word-spacing="0.8" fill="#262626" >R5</text>
<text x="731.40" y="381.10" text-anchor="middle" font-size="8" letter-spacing="0.3" word-spacing="0.8" fill="#262626" >3.3K</text>
<text x="731.00" y="394.60" text-anchor="start" font-size="8" letter-spacing="0.3" word-spacing="0.8" fill="#262626" >.01p</text>
<text x="735.00" y="419.70" text-anchor="middle" font-size="8" letter-spacing="0.3" word-spacing="0.8" fill="#262626" >C9</text>
<polygon points="711.70,486.90 711.70,508.50 733.30,497.70" fill="none" stroke="#3a3aa8" stroke-width="1"/>
<polyline points="713.90,492.95 716.70,492.95" fill="none" stroke="#3a3aa8" stroke-width="1.0"/>
<polyline points="713.90,502.88 716.70,502.88" fill="none" stroke="#3a3aa8" stroke-width="1.0"/>
<polyline points="715.30,501.48 715.30,504.28" fill="none" stroke="#3a3aa8" stroke-width="1.0"/>
<polyline points="722.93,492.52 722.93,486.90" fill="none" stroke="#3a3aa8" stroke-width="1.0"/>
<polyline points="722.93,502.88 722.93,508.50" fill="none" stroke="#3a3aa8" stroke-width="1.0"/>
<polyline points="724.73,491.30 727.53,491.30" fill="none" stroke="#3a3aa8" stroke-width="1.0"/>
<polyline points="726.13,489.90 726.13,492.70" fill="none" stroke="#3a3aa8" stroke-width="1.0"/>
<polyline points="724.73,505.10 727.53,505.10" fill="none" stroke="#3a3aa8" stroke-width="1.0"/>
<polyline points="673.50,492.60 711.70,492.60" fill="none" stroke="#4a4ae6" stroke-width="1.15"/>
<polyline points="673.50,492.60 673.50,535.80 711.70,535.80" fill="none" stroke="#4a4ae6" stroke-width="1.15"/>
<polyline points="711.70,535.80 716.97,530.60 722.49,541.00 727.76,530.60 733.66,541.00 736.80,535.80" fill="none" stroke="#3a3aa8" stroke-width="1.0"/>
<polyline points="736.80,535.80 749.30,535.80" fill="none" stroke="#4a4ae6" stroke-width="1.15"/>
<rect x="709.70" y="533.80" width="4.0" height="4.0" fill="#0000ff"/>
<rect x="747.30" y="533.80" width="4.0" height="4.0" fill="#0000ff"/>
<rect x="747.30" y="495.80" width="4.0" height="4.0" fill="#0000ff"/>
<polyline points="733.30,497.80 770.50,497.80" fill="none" stroke="#4a4ae6" stroke-width="1.15"/>
<polygon points="770.20,493.05 780.40,493.05 785.70,497.90 780.40,502.75 770.20,502.75" fill="none" stroke="#4a4ae6" stroke-width="1.1"/>
<text x="772.00" y="500.70" text-anchor="start" font-size="8" letter-spacing="0.3" word-spacing="0.8" fill="#262626" >Q</text>
<polyline points="749.30,497.80 749.30,568.10 724.30,568.10" fill="none" stroke="#4a4ae6" stroke-width="1.15"/>
<polyline points="721.10,562.10 721.10,574.10" fill="none" stroke="#3a3aa8" stroke-width="1.0"/>
<polyline points="724.30,562.10 724.30,574.10" fill="none" stroke="#3a3aa8" stroke-width="1.0"/>
<polyline points="721.10,568.10 711.70,568.10 711.70,535.80" fill="none" stroke="#4a4ae6" stroke-width="1.15"/>
<text x="727.30" y="489.70" text-anchor="start" font-size="8" letter-spacing="0.3" word-spacing="0.8" fill="#262626" >U2</text>
<text x="727.30" y="511.30" text-anchor="start" font-size="8" letter-spacing="0.3" word-spacing="0.8" fill="#262626" >AD712</text>
<text x="0" y="0" transform="translate(724.80,486.00) rotate(-90)" font-size="8" letter-spacing="0.3" fill="#262626">VP</text>
<text x="0" y="0" transform="translate(724.80,520.70) rotate(-90)" font-size="8" letter-spacing="0.3" fill="#262626">VM</text>
<text x="724.80" y="527.30" text-anchor="middle" font-size="8" letter-spacing="0.3" word-spacing="0.8" fill="#262626" >R6</text>
<text x="711.30" y="549.30" text-anchor="start" font-size="8" letter-spacing="0.3" word-spacing="0.8" fill="#262626" >3.3K</text>
<text x="723.00" y="562.50" text-anchor="start" font-size="8" letter-spacing="0.3" word-spacing="0.8" fill="#262626" >.01p</text>
<text x="723.90" y="587.50" text-anchor="middle" font-size="8" letter-spacing="0.3" word-spacing="0.8" fill="#262626" >C10</text>
</svg>
</body></html>
